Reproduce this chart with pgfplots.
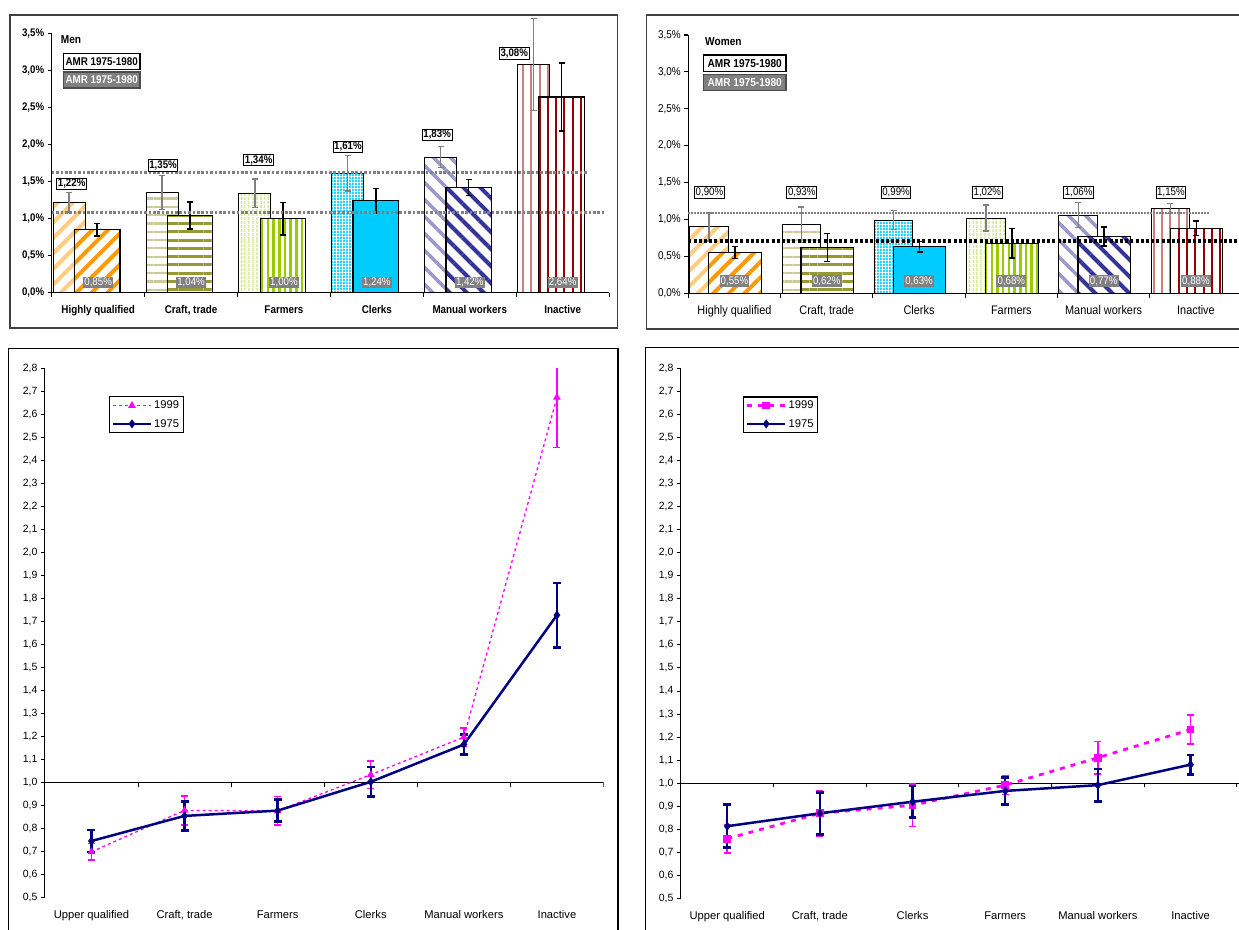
\documentclass[border=0pt]{standalone}
\usepackage{fontspec}
\setmainfont{Liberation Sans}
\newfontfamily\nf[FakeStretch=0.88]{Liberation Sans}
\usepackage{pgfplots}
\pgfplotsset{compat=1.18}
\usetikzlibrary{patterns.meta}
\definecolor{xorange}{HTML}{FF9900}
\definecolor{xolive}{HTML}{999933}
\definecolor{xgreen}{HTML}{99CC00}
\definecolor{xcyan}{HTML}{00CCFF}
\definecolor{xnavy}{HTML}{333399}
\definecolor{xred}{HTML}{990000}
\definecolor{xmag}{HTML}{FF00FF}
\definecolor{xdnavy}{HTML}{000080}
\definecolor{xgray}{HTML}{808080}
\newcommand\fs[1]{\fontsize{#1}{#1}\selectfont}

\tikzset{
 hqD/.style={preaction={fill=white}, pattern={Lines[angle=45,distance=11pt,line width=4pt]}, pattern color=xorange},
 hqL/.style={preaction={fill=white}, pattern={Lines[angle=45,distance=11pt,line width=4pt]}, pattern color=xorange!50},
 crD/.style={preaction={fill=white}, pattern={Lines[angle=0,distance=8.3pt,line width=3pt]}, pattern color=xolive},
 crL/.style={preaction={fill=white}, pattern={Lines[angle=0,distance=8.3pt,line width=2.2pt]}, pattern color=xolive!50},
 faD/.style={preaction={fill=white}, pattern={Lines[angle=90,distance=5.7pt,line width=2.5pt]}, pattern color=xgreen},
 faL/.style={preaction={fill=white}, pattern={Lines[angle=90,distance=4pt,line width=1.8pt]}, pattern color=xgreen!50},
 clD/.style={fill=xcyan},
 clL/.style={preaction={fill=xcyan!85}, pattern={Hatch[angle=0,distance=3pt,line width=0.7pt]}, pattern color=white},
 maD/.style={preaction={fill=white}, pattern={Lines[angle=-45,distance=12pt,line width=4pt]}, pattern color=xnavy},
 maL/.style={preaction={fill=white}, pattern={Lines[angle=-45,distance=12pt,line width=3.5pt]}, pattern color=xnavy!50},
 inD/.style={preaction={fill=white}, pattern={Lines[angle=90,distance=8.3pt,line width=2pt]}, pattern color=xred},
 inL/.style={preaction={fill=white}, pattern={Lines[angle=90,distance=8.3pt,line width=2pt]}, pattern color=xred!50},
 mlab/.style={draw=black, line width=1pt, fill=white, inner sep=1.2pt, font=\nf\bfseries\fs{11}},
 wlab/.style={draw=black, line width=1pt, fill=white, inner sep=1.2pt, font=\nf\fs{11}},
 dlab/.style={fill=xgray, text=white, inner sep=1.2pt, font=\nf\fs{11}},
}

\pgfplotsset{
 ebL/.style={error bars/y dir=both, error bars/y explicit,
   error bars/error bar style={xgray, line width=1.3pt, solid},
   error bars/error mark options={rotate=90, xgray, line width=1.3pt, mark size=3pt, solid}},
 ebD/.style={error bars/y dir=both, error bars/y explicit,
   error bars/error bar style={black, line width=1.4pt, solid},
   error bars/error mark options={rotate=90, black, line width=1.4pt, mark size=3pt, solid}},
 mL/.style={ybar, bar width=32pt, bar shift=0pt, xshift=-29pt, draw=black, line width=1pt, ebL},
 mD/.style={ybar, bar width=45.5pt, bar shift=0pt, xshift=-1pt, draw=black, line width=1.2pt, ebD},
 wL/.style={ybar, bar width=38.5pt, bar shift=0pt, xshift=-25.5pt, draw=black, line width=1pt, ebL},
 wD/.style={ybar, bar width=52.5pt, bar shift=0pt, xshift=0.5pt, draw=black, line width=1.2pt, ebD},
 topaxis/.style={
   scale only axis, clip=false, anchor=south west,
   xmin=-0.5, xmax=5.5, ymin=0, ymax=3.5,
   axis lines=left, axis line style={-, line width=1.1pt, black},
   tick align=outside, major tick length=4pt, minor tick length=4.5pt,
   xtick={0,...,5}, minor xtick={-0.5,0.5,...,5.5},
   major x tick style={draw=none},
   minor x tick style={black, line width=1.1pt},
   ytick={0,0.5,...,3.5},
   ytick style={black, line width=1.1pt},
   yticklabel={\pgfmathprintnumber{\tick}\%},
   /pgf/number format/use comma, /pgf/number format/fixed,
   /pgf/number format/fixed zerofill, /pgf/number format/precision=1,
   /pgf/number format/assume math mode=true,
   xticklabel style={yshift=-6pt, text depth=0.22em, text height=0.72em},
 },
 botaxis/.style={
   scale only axis, clip=true, anchor=south west,
   xmin=-0.5, xmax=5.5, ymin=0.5, ymax=2.8,
   axis y line=left, axis x line=bottom,
   x axis line style={draw=none}, y axis line style={-, black, line width=1.1pt},
   tick align=outside, major tick length=4pt,
   xtick={0,...,5}, major x tick style={draw=none},
   ytick distance=0.1,
   ytick style={black, line width=1pt},
   yticklabel={\pgfmathprintnumber{\tick}},
   /pgf/number format/use comma, /pgf/number format/fixed,
   /pgf/number format/fixed zerofill, /pgf/number format/precision=1,
   /pgf/number format/assume math mode=true,
   yticklabel style={font=\fs{10.5}},
   xticklabel style={font=\fs{11.2}, yshift=-6pt, text depth=0.22em, text height=0.72em},
   legend style={draw=black, line width=1.2pt, font=\fs{11.2}, inner sep=2pt, row sep=5pt},
   legend cell align=left,
   legend image code/.code={\draw[mark repeat=2, mark phase=2, #1] plot coordinates {(0pt,0pt) (19pt,0pt) (38pt,0pt)};},
 },
}

\begin{document}
\begin{tikzpicture}[x=1pt,y=1pt]
\useasboundingbox (0,0) rectangle (1239,929);

% ---------------- Men (top left) ----------------
\begin{axis}[topaxis, at={(51.7pt,636.3pt)}, width=557.4pt, height=259.4pt,
  xticklabels={Highly qualified, {Craft, trade}, Farmers, Clerks, Manual workers, Inactive},
  xticklabel style={font=\nf\bfseries\fs{11.2}},
  yticklabel style={font=\nf\bfseries\fs{11}}]
\addplot[mL, hqL] coordinates {(0,1.22) +- (0,0.135)};
\addplot[mD, hqD] coordinates {(0,0.85) +- (0,0.085)};
\addplot[mL, crL] coordinates {(1,1.35) +- (0,0.227)};
\addplot[mD, crD] coordinates {(1,1.04) +- (0,0.182)};
\addplot[mL, faL] coordinates {(2,1.34) +- (0,0.194)};
\addplot[mD, faD] coordinates {(2,1.00) +- (0,0.22)};
\addplot[mL, clL] coordinates {(3,1.61) +- (0,0.239)};
\addplot[mD, clD] coordinates {(3,1.24) +- (0,0.166)};
\addplot[mL, maL] coordinates {(4,1.83) +- (0,0.139)};
\addplot[mD, maD] coordinates {(4,1.42) +- (0,0.106)};
\addplot[mL, inL] coordinates {(5,3.08) +- (0,0.62)};
\addplot[mD, inD] coordinates {(5,2.64) +- (0,0.459)};
\draw[xgray, line width=2.6pt, dash pattern=on 2.6pt off 1.8pt] (axis cs:-0.5,1.625) -- (axis cs:5.26,1.625);
\draw[xgray, line width=2.6pt, dash pattern=on 2.6pt off 1.8pt] (axis cs:-0.5,1.085) -- (axis cs:5.46,1.085);
\node[mlab, xshift=-26.5pt] at (axis cs:0,1.467) {1,22\%};
\node[mlab, xshift=-28pt] at (axis cs:1,1.714) {1,35\%};
\node[mlab, xshift=-25.3pt] at (axis cs:2,1.79) {1,34\%};
\node[mlab, xshift=-28.9pt] at (axis cs:3,1.966) {1,61\%};
\node[mlab, xshift=-32.6pt] at (axis cs:4,2.128) {1,83\%};
\node[mlab, xshift=-48.4pt] at (axis cs:5,3.225) {3,08\%};
\node[dlab] at (axis cs:0,0.135) {0,85\%};
\node[dlab] at (axis cs:1,0.135) {1,04\%};
\node[dlab] at (axis cs:2,0.135) {1,00\%};
\node[dlab] at (axis cs:3,0.135) {1,24\%};
\node[dlab] at (axis cs:4,0.135) {1,42\%};
\node[dlab] at (axis cs:5,0.135) {2,64\%};
\end{axis}

% ---------------- Women (top right) ----------------
\begin{axis}[topaxis, at={(688.3pt,635.7pt)}, width=553.8pt, height=258.3pt,
  xticklabels={Highly qualified, {Craft, trade}, Clerks, Farmers, Manual workers, Inactive},
  xticklabel style={font=\nf\fs{12.4}},
  yticklabel style={font=\nf\fs{11.3}}]
\addplot[wL, hqL] coordinates {(0,0.90) +- (0,0.19)};
\addplot[wD, hqD] coordinates {(0,0.55) +- (0,0.08)};
\addplot[wL, crL] coordinates {(1,0.93) +- (0,0.24)};
\addplot[wD, crD] coordinates {(1,0.62) +- (0,0.19)};
\addplot[wL, clL] coordinates {(2,0.99) +- (0,0.13)};
\addplot[wD, clD] coordinates {(2,0.63) +- (0,0.068)};
\addplot[wL, faL] coordinates {(3,1.02) +- (0,0.175)};
\addplot[wD, faD] coordinates {(3,0.68) +- (0,0.2)};
\addplot[wL, maL] coordinates {(4,1.06) +- (0,0.17)};
\addplot[wD, maD] coordinates {(4,0.77) +- (0,0.13)};
\addplot[wL, inL] coordinates {(5,1.15) +- (0,0.065)};
\addplot[wD, inD] coordinates {(5,0.88) +- (0,0.1)};
\draw[xgray, line width=1.5pt, dash pattern=on 1.5pt off 1.5pt] (axis cs:-0.5,1.09) -- (axis cs:5.14,1.09);
\draw[black, line width=3.5pt, dash pattern=on 3pt off 2.2pt] (axis cs:-0.5,0.71) -- (axis cs:5.6,0.71);
\node[wlab, xshift=-25pt] at (axis cs:0,1.363) {0,90\%};
\node[wlab, xshift=-25pt] at (axis cs:1,1.363) {0,93\%};
\node[wlab, xshift=-23pt] at (axis cs:2,1.363) {0,99\%};
\node[wlab, xshift=-24pt] at (axis cs:3,1.363) {1,02\%};
\node[wlab, xshift=-25pt] at (axis cs:4,1.363) {1,06\%};
\node[wlab, xshift=-25pt] at (axis cs:5,1.363) {1,15\%};
\node[dlab] at (axis cs:0,0.167) {0,55\%};
\node[dlab] at (axis cs:1,0.167) {0,62\%};
\node[dlab] at (axis cs:2,0.167) {0,63\%};
\node[dlab] at (axis cs:3,0.167) {0,68\%};
\node[dlab] at (axis cs:4,0.167) {0,77\%};
\node[dlab] at (axis cs:5,0.167) {0,88\%};
\end{axis}

% ---------------- bottom left ----------------
\begin{axis}[botaxis, at={(44.9pt,31.1pt)}, width=558.6pt, height=529.7pt,
  xticklabels={Upper qualified, {Craft, trade}, Farmers, Clerks, Manual workers, Inactive},
  legend style={at={(0.115,0.947)}, anchor=north west}]
\addplot[black, line width=1pt, forget plot] coordinates {(-0.5,1) (5.5,1)};
\addplot[xmag, line width=1.3pt, dash pattern=on 3pt off 3pt, mark=triangle*, mark size=3.2pt, mark options={solid},
  error bars/y dir=both, error bars/y explicit,
  error bars/error bar style={xmag, line width=1.3pt, solid},
  error bars/error mark options={rotate=90, xmag, line width=1.3pt, mark size=3.5pt, solid}]
  coordinates {(0,0.70) +- (0,0.035) (1,0.88) +- (0,0.063) (2,0.878) +- (0,0.062)
               (3,1.035) +- (0,0.06) (4,1.198) +- (0,0.04) (5,2.673) +- (0,0.216)};
\addlegendentry{1999}
\addplot[xdnavy, line width=2.5pt, mark=diamond*, mark size=2.5pt, mark options={solid},
  error bars/y dir=both, error bars/y explicit,
  error bars/error bar style={xdnavy, line width=2.5pt, solid},
  error bars/error mark options={rotate=90, xdnavy, line width=2.5pt, mark size=4pt, solid}]
  coordinates {(0,0.747) +- (0,0.047) (1,0.856) +- (0,0.063) (2,0.879) +- (0,0.048)
               (3,1.004) +- (0,0.064) (4,1.166) +- (0,0.044) (5,1.728) +- (0,0.14)};
\addlegendentry{1975}
\pgfplotsinvokeforeach{-0.5,0.5,1.5,2.5,3.5,4.5,5.5}{\draw[black, line width=1pt] (axis cs:#1,1) -- ++(0pt,-4pt);}
\end{axis}

% ---------------- bottom right ----------------
\begin{axis}[botaxis, at={(680.9pt,30.4pt)}, width=556pt, height=530.4pt,
  xticklabels={Upper qualified, {Craft, trade}, Clerks, Farmers, Manual workers, Inactive},
  legend style={at={(0.112,0.947)}, anchor=north west}]
\addplot[black, line width=1pt, forget plot] coordinates {(-0.5,1) (5.5,1)};
\addplot[xmag, line width=2.8pt, dash pattern=on 5pt off 6pt, mark=square*, mark size=2.5pt, mark options={solid},
  error bars/y dir=both, error bars/y explicit,
  error bars/error bar style={xmag, line width=1.6pt, solid},
  error bars/error mark options={rotate=90, xmag, line width=1.6pt, mark size=3.5pt, solid}]
  coordinates {(0,0.76) +- (0,0.061) (1,0.87) +- (0,0.098) (2,0.905) +- (0,0.092)
               (3,0.992) +- (0,0.04) (4,1.111) +- (0,0.071) (5,1.233) +- (0,0.063)};
\addlegendentry{1999}
\addplot[xdnavy, line width=2.5pt, mark=diamond*, mark size=2.5pt, mark options={solid},
  error bars/y dir=both, error bars/y explicit,
  error bars/error bar style={xdnavy, line width=2.5pt, solid},
  error bars/error mark options={rotate=90, xdnavy, line width=2.5pt, mark size=3.8pt, solid}]
  coordinates {(0,0.814) +- (0,0.093) (1,0.870) +- (0,0.091) (2,0.920) +- (0,0.068)
               (3,0.967) +- (0,0.059) (4,0.992) +- (0,0.071) (5,1.081) +- (0,0.042)};
\addlegendentry{1975}
\pgfplotsinvokeforeach{-0.5,0.5,1.5,2.5,3.5,4.5,5.5}{\draw[black, line width=1pt] (axis cs:#1,1) -- ++(0pt,-4pt);}
\end{axis}
\draw[black, line width=1pt] (1236.9,145.7) -- (1245,145.7);

% ---------------- titles and legend boxes of top panels ----------------
\node[anchor=west, inner sep=0pt, font=\nf\bfseries\fs{11.5}] at (60.7,889.7) {Men};
\node[draw=black, line width=1.2pt, fill=white, minimum width=76.7pt, minimum height=16pt, inner sep=0pt, font=\nf\bfseries\fs{11.2}] at (101.7,867.7) {AMR 1975-1980};
\node[draw=black!70, line width=1.2pt, fill=xgray, text=white, minimum width=76.7pt, minimum height=16pt, inner sep=0pt, font=\nf\bfseries\fs{11.2}] at (101.7,849) {AMR 1975-1980};
\node[anchor=west, inner sep=0pt, font=\nf\bfseries\fs{11.5}] at (705,887.3) {Women};
\node[draw=black, line width=1.2pt, fill=white, minimum width=82.7pt, minimum height=16.5pt, inner sep=0pt, font=\nf\bfseries\fs{11.5}] at (744.7,865.7) {AMR 1975-1980};
\node[draw=black!70, line width=1.2pt, fill=xgray, text=white, minimum width=82.7pt, minimum height=15.5pt, inner sep=0pt, font=\nf\bfseries\fs{11.5}] at (744.7,846.5) {AMR 1975-1980};

% ---------------- panel borders ----------------
\draw[black!75, line width=1.3pt] (10,601) rectangle (617.5,914);
\draw[black!75, line width=1.3pt] (646.5,600) rectangle (1250,914);
\draw[black, line width=1.3pt] (8.7,-10) rectangle (618,580.7);
\draw[black, line width=1.3pt] (645.7,-10) rectangle (1250,581.5);
\end{tikzpicture}
\end{document}
